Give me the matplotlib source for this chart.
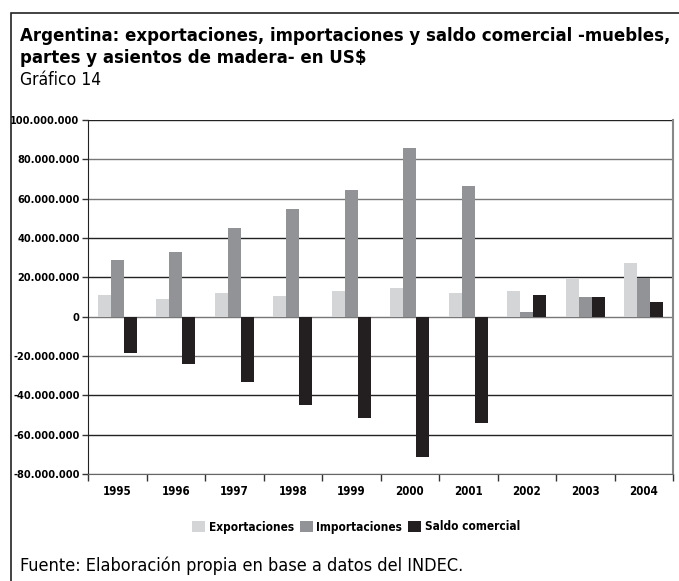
import matplotlib
matplotlib.use("Agg")
import matplotlib.pyplot as plt
from matplotlib.patches import Rectangle
import numpy as np

plt.rcParams['font.family'] = ['DejaVu Sans']
plt.rcParams['font.stretch'] = 'condensed'

years = ["1995", "1996", "1997", "1998", "1999", "2000", "2001", "2002", "2003", "2004"]
exportaciones = [11.0, 9.0, 12.0, 10.5, 13.0, 14.6, 12.0, 13.0, 19.7, 27.3]
importaciones = [28.8, 32.9, 45.0, 54.7, 64.3, 85.7, 66.3, 2.5, 10.0, 19.7]
saldo = [-18.3, -23.9, -33.0, -44.7, -51.3, -71.6, -54.3, 11.0, 10.0, 7.5]
series_names = ["Exportaciones", "Importaciones", "Saldo comercial"]
colors = ["#d4d5d7", "#929396", "#231f20"]
yticks = [-80, -60, -40, -20, 0, 20, 40, 60, 80, 100]
ytick_labels = ["-80.000.000", "-60.000.000", "-40.000.000", "-20.000.000", "0",
                "20.000.000", "40.000.000", "60.000.000", "80.000.000", "100.000.000"]

fig = plt.figure(figsize=(6.79, 5.81), dpi=100)
ax = fig.add_axes([88/679, 1-474/581, 585/679, 354/581])

x = np.arange(len(years))
w = 0.225
for i, (vals, name, c) in enumerate(zip([exportaciones, importaciones, saldo], series_names, colors)):
    ax.bar(x + (i - 1) * w, [v * 1e6 for v in vals], width=w, color=c, label=name, zorder=3)

ax.set_xlim(-0.5, len(years) - 0.5)
ax.set_ylim(-80e6, 100e6)
ax.set_yticks([v * 1e6 for v in yticks])
ax.set_yticklabels(ytick_labels, fontsize=7.8, fontweight='bold')
grid_colors = ["#777777", "#222222", "#222222", "#777777", "#777777", "#222222", "#222222", "#777777", "#777777", "#222222"]
for v, gc in zip(yticks, grid_colors):
    ax.axhline(v * 1e6, color=gc, lw=1.0, zorder=1)

ax.set_xticks(x)
ax.set_xticklabels(years, fontsize=8.3, fontweight='bold')
ax.tick_params(axis='x', length=0, pad=8)
ax.set_xticks(np.arange(-0.5, len(years)), minor=True)
ax.tick_params(axis='x', which='minor', length=5, width=1, color='#333333', direction='out')
ax.tick_params(axis='y', length=4, width=1, color='#333333', pad=2)
ax.spines['top'].set_visible(False)
ax.spines['left'].set_color('#222222')
ax.spines['right'].set_color('#888888')
ax.spines['right'].set_linewidth(1.5)
ax.spines['bottom'].set_color('#666666')

leg = fig.legend(loc='center', bbox_to_anchor=(356/679, 1-527/581), ncol=3, frameon=False,
                 prop={'size': 8.5, 'weight': 'bold', 'stretch': 'condensed'},
                 handlelength=1.1, handleheight=1.1,
                 handletextpad=0.3, columnspacing=0.5)

fig.text(20/679, 1-36/581, "Argentina: exportaciones, importaciones y saldo comercial -muebles,",
         fontsize=13.3, fontweight='bold', va='center', ha='left')
fig.text(20/679, 1-58/581, "partes y asientos de madera- en US$",
         fontsize=13.3, fontweight='bold', va='center', ha='left')
fig.text(20/679, 1-80/581, "Gráfico 14", fontsize=12.5, va='center', ha='left')
fig.text(20/679, 1-566/581, "Fuente: Elaboración propia en base a datos del INDEC.",
         fontsize=13, va='center', ha='left')

fig.add_artist(Rectangle((11/679, -0.01), 1.0, 1 - 13/581 + 0.01, transform=fig.transFigure,
                         fill=False, edgecolor='#222222', lw=1.2))

fig.savefig("out.png", dpi=100)
